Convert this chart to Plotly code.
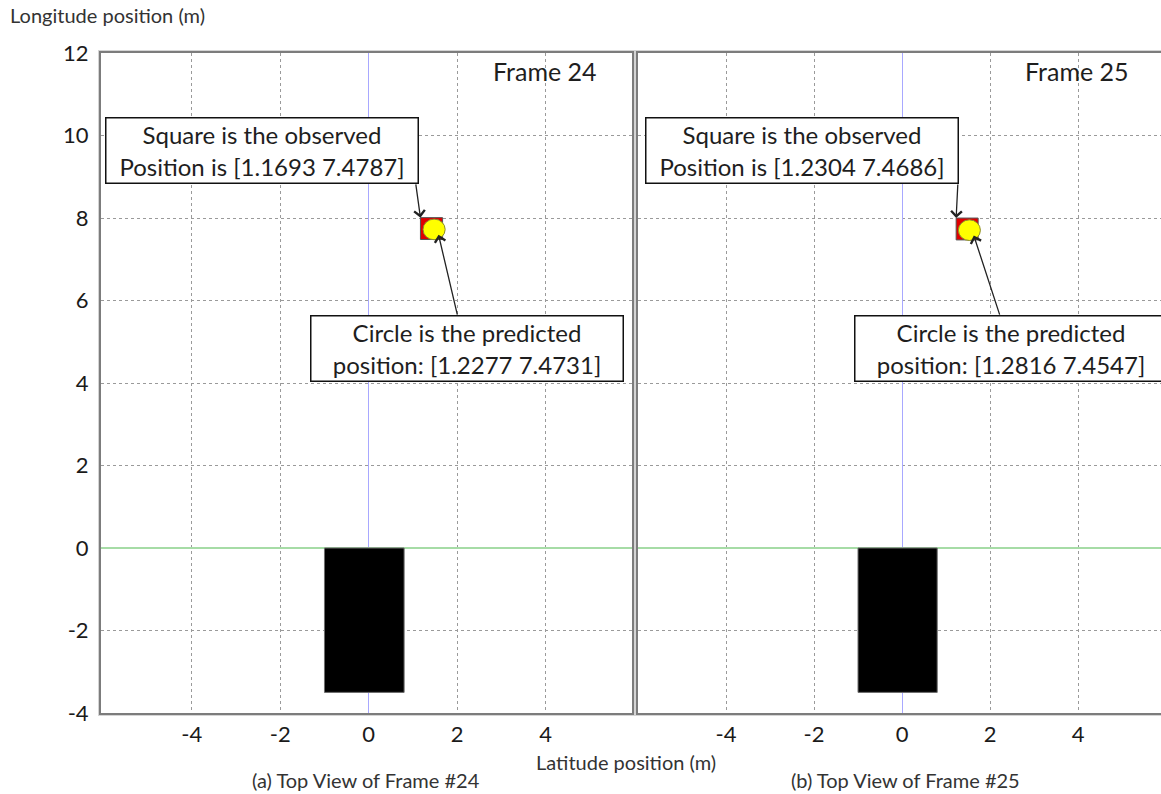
import numpy as np
import plotly.graph_objects as go

# ---- data -------------------------------------------------------------
frames = [24, 25]
observed = [[1.1693, 7.4787], [1.2304, 7.4686]]     # square marker (lower-left corner)
predicted = [[1.2277, 7.4731], [1.2816, 7.4547]]    # circle marker (lower-left of bounding box)
ego_box = [-1.0, 0.8, -3.5, 0.0]                    # x0, x1, y0, y1 of the vehicle footprint
x_ticks = [-4, -2, 0, 2, 4]
y_ticks = [-4, -2, 0, 2, 4, 6, 8, 10, 12]

# ---- styling ----------------------------------------------------------
W, H = 1161, 794
FONT = "Lato"
MARK = 0.5            # marker box size in metres
px = lambda v: v / W
py = lambda v: 1 - v / H

panels = [
    dict(dom=[px(101), px(632)], rng=[-6.05, 5.95]),
    dict(dom=[px(638), 1.0], rng=[-6.0, 5.886]),
]
ydom = [py(713), py(53)]

fig = go.Figure()

# plain ASCII hyphen for negative tick labels
x_labels = [str(v) for v in x_ticks]
y_labels = [str(v) for v in y_ticks]

axis_common = dict(
    tickvals=x_ticks, ticktext=x_labels,
    showgrid=True, gridcolor="#9a9a9a", griddash="dot", gridwidth=1,
    zeroline=True, zerolinecolor="#a8a8ff", zerolinewidth=1,
    showline=True, mirror=True, linecolor="#7c7c7c", linewidth=2,
    ticks="outside", ticklen=1, tickcolor="rgba(0,0,0,0)",
    tickfont=dict(family=FONT, size=22, color="#1a1a1a"),
    fixedrange=True, automargin=False,
)
yaxis_common = dict(
    range=[-4, 12], tickvals=y_ticks, ticktext=y_labels, domain=ydom,
    showgrid=True, gridcolor="#9a9a9a", griddash="dot", gridwidth=1,
    zeroline=True, zerolinecolor="#a6dca6", zerolinewidth=2,
    showline=True, mirror=True, linecolor="#7c7c7c", linewidth=2,
    ticks="outside", ticklen=6, tickcolor="rgba(0,0,0,0)",
    tickfont=dict(family=FONT, size=22, color="#1a1a1a"),
    fixedrange=True, automargin=False,
)

layout = dict(
    template="none",
    width=W, height=H, margin=dict(l=0, r=0, t=0, b=0, pad=0, autoexpand=False),
    paper_bgcolor="white", plot_bgcolor="white", showlegend=False,
    xaxis=dict(axis_common, domain=panels[0]["dom"], range=panels[0]["rng"], anchor="y"),
    xaxis2=dict(axis_common, domain=panels[1]["dom"], range=panels[1]["rng"], anchor="y2"),
    yaxis=dict(yaxis_common, anchor="x"),
    yaxis2=dict(yaxis_common, anchor="x2", showticklabels=False),
)

shapes = []
annotations = []

# callout box positions (paper pixels): observed box and predicted box per panel
obs_box = [(105, 117), (645, 117)]
pred_box = [(310, 315), (854, 315)]
# arrow tails in data units
obs_tail = [(1.06, 8.85), (1.27, 8.85)]
pred_tail = [(2.01, 5.62), (2.23, 5.62)]

for i, fr in enumerate(frames):
    xr = "x" if i == 0 else "x2"
    yr = "y" if i == 0 else "y2"
    ox, oy = observed[i]
    cx, cy = predicted[i]

    # light outer frame around each panel
    x0, x1 = panels[i]["dom"]
    shapes.append(dict(type="rect", xref="paper", yref="paper",
                       x0=x0 - px(2), x1=x1 + px(2), y0=ydom[0] - 2 / H, y1=ydom[1] + 2 / H,
                       line=dict(color="#d4d4d4", width=2), layer="below"))

    # vehicle footprint
    shapes.append(dict(type="rect", xref=xr, yref=yr,
                       x0=ego_box[0], x1=ego_box[1], y0=ego_box[2], y1=ego_box[3],
                       fillcolor="black", line=dict(color="#6e6e6e", width=1)))

    # observed position: red square
    shapes.append(dict(type="rect", xref=xr, yref=yr,
                       x0=ox, x1=ox + MARK, y0=oy, y1=oy + MARK * 1.06,
                       fillcolor="#e00000", line=dict(color="#555555", width=1)))
    # predicted position: yellow circle
    shapes.append(dict(type="circle", xref=xr, yref=yr,
                       x0=cx, x1=cx + MARK, y0=cy, y1=cy + MARK,
                       fillcolor="#ffff00", line=dict(color="#8a8a30", width=1)))
    fig.add_trace(go.Scatter(x=[cx + MARK / 2], y=[cy + MARK / 2], xaxis=xr, yaxis=yr,
                             mode="markers", marker=dict(size=3, color="#555500"),
                             hoverinfo="skip"))

    # frame label
    annotations.append(dict(xref="paper", yref="paper",
                            x=px(545 if i == 0 else 1077), y=py(71),
                            text=f"Frame {fr}", showarrow=False,
                            font=dict(family=FONT, size=25, color="#1e1e1e"),
                            xanchor="center", yanchor="middle"))

    # arrows (open chevron heads)
    annotations.append(dict(xref=xr, yref=yr, axref=xr, ayref=yr,
                            x=ox, y=oy + MARK * 1.06, ax=obs_tail[i][0], ay=obs_tail[i][1],
                            text="", showarrow=True, arrowhead=4, arrowsize=1.6,
                            arrowwidth=1.3, arrowcolor="#222222"))
    annotations.append(dict(xref=xr, yref=yr, axref=xr, ayref=yr,
                            x=cx + 0.35, y=cy + 0.12, ax=pred_tail[i][0], ay=pred_tail[i][1],
                            text="", showarrow=True, arrowhead=4, arrowsize=1.6,
                            arrowwidth=1.3, arrowcolor="#222222"))

    # callout text boxes
    bx, by = obs_box[i]
    annotations.append(dict(xref="paper", yref="paper", x=px(bx), y=py(by),
                            xanchor="left", yanchor="top", showarrow=False,
                            text=f"Square is the observed<br>Position is [{ox:.4f} {oy:.4f}]",
                            width=309, height=62, align="center", valign="middle",
                            bgcolor="white", bordercolor="#111111", borderwidth=1.5, borderpad=1,
                            font=dict(family=FONT, size=24, color="#1e1e1e")))
    bx, by = pred_box[i]
    annotations.append(dict(xref="paper", yref="paper", x=px(bx), y=py(by),
                            xanchor="left", yanchor="top", showarrow=False,
                            text=f"Circle is the predicted<br>position: [{cx:.4f} {cy:.4f}]",
                            width=309, height=62, align="center", valign="middle",
                            bgcolor="white", bordercolor="#111111", borderwidth=1.5, borderpad=1,
                            font=dict(family=FONT, size=24, color="#1e1e1e")))

# axis titles and captions
annotations += [
    dict(xref="paper", yref="paper", x=px(8), y=py(15), text="Longitude position (m)",
         showarrow=False, xanchor="left", yanchor="middle",
         font=dict(family=FONT, size=20, color="#333333")),
    dict(xref="paper", yref="paper", x=px(626), y=py(762), text="Latitude position (m)",
         showarrow=False, xanchor="center", yanchor="middle",
         font=dict(family=FONT, size=20, color="#333333")),
    dict(xref="paper", yref="paper", x=px(366), y=py(780), text="(a) Top View of Frame #24",
         showarrow=False, xanchor="center", yanchor="middle",
         font=dict(family=FONT, size=20, color="#333333")),
    dict(xref="paper", yref="paper", x=px(905), y=py(780), text="(b) Top View of Frame #25",
         showarrow=False, xanchor="center", yanchor="middle",
         font=dict(family=FONT, size=20, color="#333333")),
]

layout["shapes"] = shapes
layout["annotations"] = annotations
fig.update_layout(**layout)

fig.write_html("out.html", config={"displayModeBar": False})
